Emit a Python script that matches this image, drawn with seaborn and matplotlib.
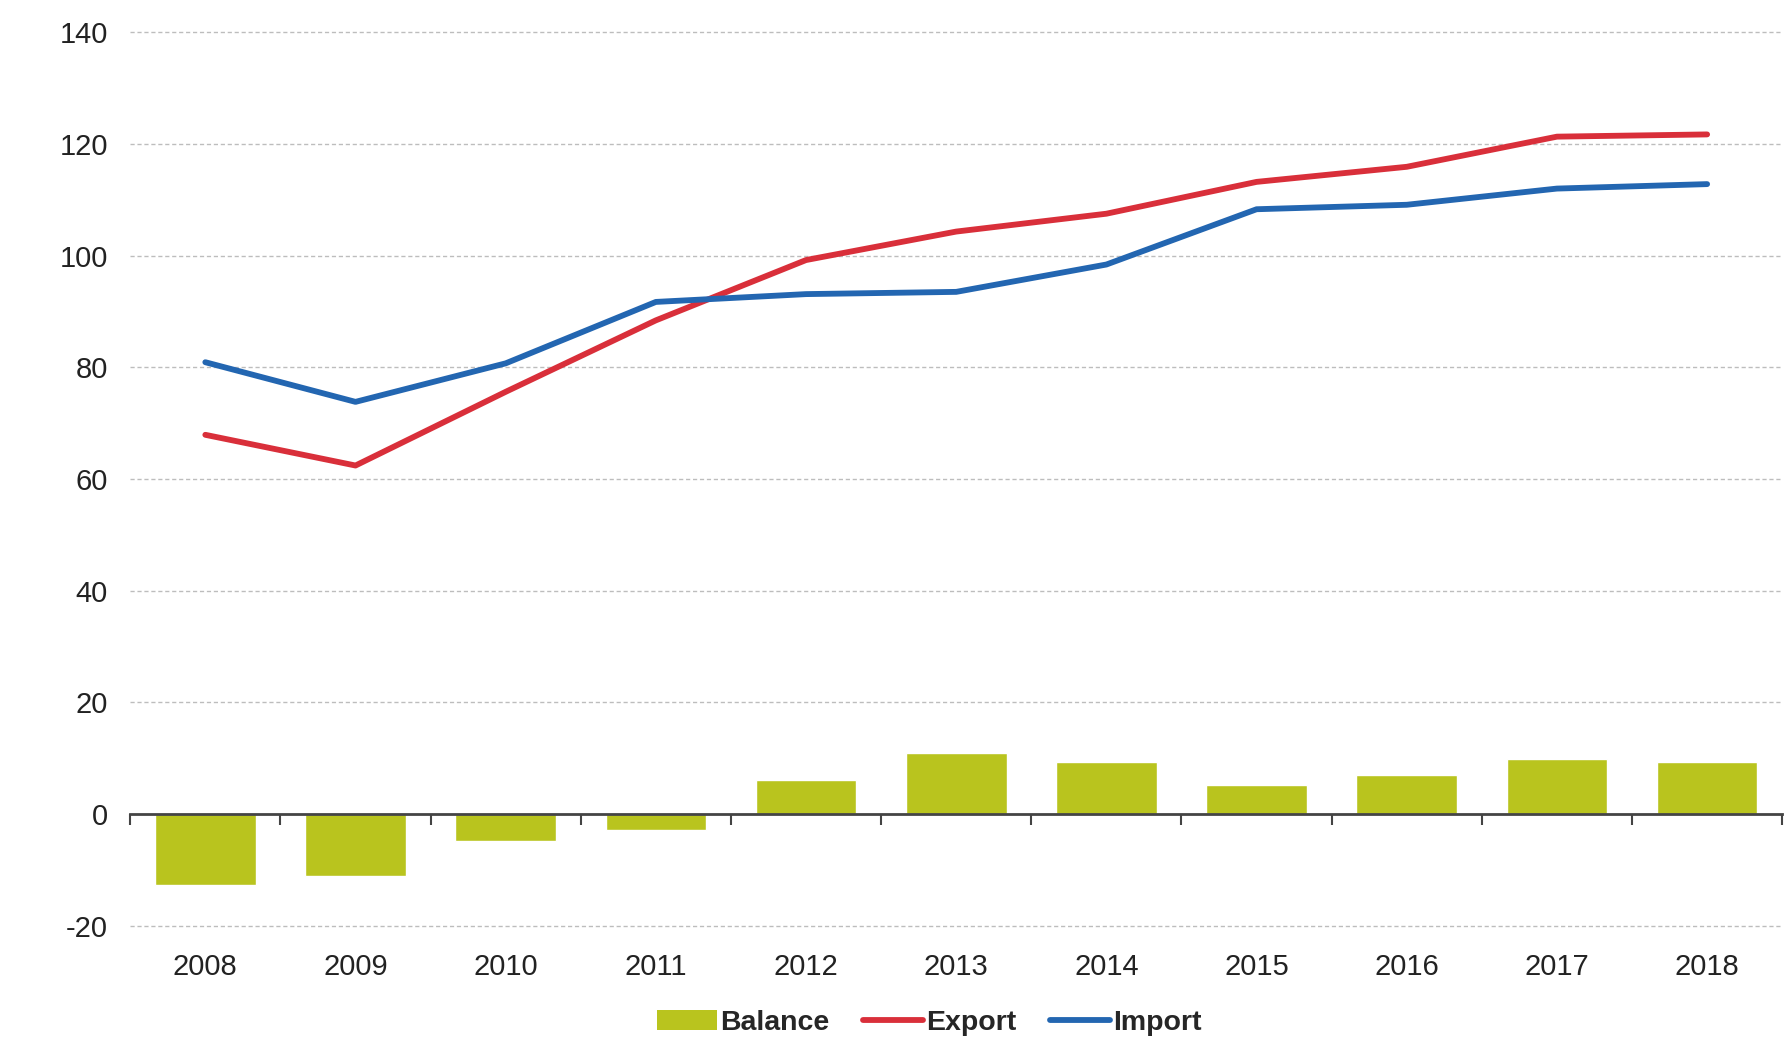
import matplotlib
matplotlib.use('Agg')
import matplotlib.pyplot as plt
import seaborn as sns
import pandas as pd
from matplotlib.patches import Patch
from matplotlib.lines import Line2D

years = ['2008', '2009', '2010', '2011', '2012', '2013',
         '2014', '2015', '2016', '2017', '2018']
export = [67.9, 62.4, 75.6, 88.4, 99.2, 104.3, 107.5, 113.2, 115.9, 121.3, 121.7]
imports = [80.9, 73.8, 80.7, 91.7, 93.1, 93.5, 98.4, 108.3, 109.1, 112.0, 112.8]
balance = [-12.8, -11.2, -4.9, -2.8, 6.1, 11.0, 9.3, 5.1, 6.9, 9.8, 9.3]
y_ticks = [-20, 0, 20, 40, 60, 80, 100, 120, 140]

green = '#b9c41e'
red = '#d92f3a'
blue = '#2366b1'

df = pd.DataFrame({'year': years, 'Export': export,
                   'Import': imports, 'Balance': balance})

sns.set_style('white')
plt.rcParams['font.family'] = ['Liberation Sans', 'DejaVu Sans']
plt.rcParams['axes.unicode_minus'] = False

fig = plt.figure(figsize=(17.84, 10.40), dpi=100)
ax = fig.add_axes([0.073, 0.11, 0.926, 0.859])

for v in y_ticks:
    if v != 0:
        ax.axhline(v, color='#bdbdbd', lw=1.0, ls=(0, (3, 2)), zorder=0,
                   clip_on=False)

sns.barplot(data=df, x='year', y='Balance', color=green, width=0.67,
            saturation=1, ax=ax, zorder=2)
sns.lineplot(data=df, x='year', y='Export', color=red, lw=4.2, ax=ax,
             zorder=3, solid_capstyle='round')
sns.lineplot(data=df, x='year', y='Import', color=blue, lw=4.2, ax=ax,
             zorder=3, solid_capstyle='round')

ax.set_xlim(-0.5, len(years) - 0.5)
ax.set_ylim(-20, 140)
ax.set_yticks(y_ticks)
ax.set_xlabel('')
ax.set_ylabel('')
for s in ax.spines.values():
    s.set_visible(False)
ax.tick_params(axis='y', length=0, pad=16, labelsize=21, labelcolor='#222222')
ax.tick_params(axis='x', length=0, pad=20, labelsize=21, labelcolor='#222222')

# zero line with category boundary ticks
zero_pos = 20 / 160
sec = ax.secondary_xaxis(zero_pos)
sec.set_xticks([i - 0.5 for i in range(len(years) + 1)], labels=[])
sec.tick_params(length=8, width=1.5, color='#444444', direction='out')
sec.spines['bottom'].set_color('#444444')
sec.spines['bottom'].set_linewidth(2)
sec.set_zorder(4)

handles = [Patch(facecolor=green, edgecolor='none'),
           Line2D([], [], color=red, lw=4.2),
           Line2D([], [], color=blue, lw=4.2)]
fig.legend(handles, ['Balance', 'Export', 'Import'], loc='center',
           bbox_to_anchor=(0.521, 0.016), ncol=3, frameon=False,
           prop={'size': 20.5, 'weight': 'bold'}, handlelength=2.1,
           handletextpad=0.1, columnspacing=1.2)

fig.savefig('out.png', dpi=100)
